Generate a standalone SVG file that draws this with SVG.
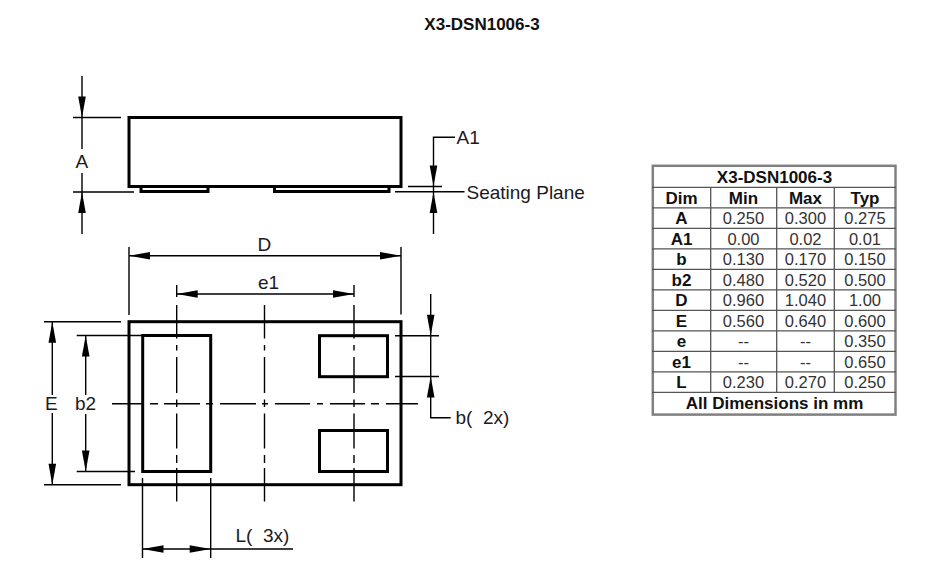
<svg xmlns="http://www.w3.org/2000/svg" width="943" height="573" viewBox="0 0 943 573">
<defs>
<path id="ah" d="M0 0L-21 -3.800L-21 3.800Z" fill="#000"/>
<path id="cl" d="M0 0V12M0 20V53.500M0 60V65.500M0 72V108M0 114.500V122M0 128.500V163.500M0 170V178M0 183V216.500"/>
</defs>
<style>
text{font-family:"Liberation Sans",Arial,sans-serif;fill:#1a1a24}
.o{fill:none;stroke:#000;stroke-width:3}
.p{fill:none;stroke:#000;stroke-width:3}
.l{fill:none;stroke:#000;stroke-width:1.4}
.d{font-size:19px}
.tl{stroke:#555;stroke-width:1.3}
.tb{font-size:17px;font-weight:bold;text-anchor:middle;fill:#111}
.tv{font-size:16.500px;text-anchor:middle;fill:#333}
</style>
<rect width="943" height="573" fill="#fff"/>
<text x="482" y="30" font-size="17" font-weight="bold" text-anchor="middle" style="fill:#111">X3-DSN1006-3</text>
<g id="side-view">
<rect class="o" x="129" y="117.500" width="272" height="69"/>
<path class="p" d="M141 187V191.500H208V187M274.500 187V191.500H389V187"/>
</g>
<g id="bottom-view">
<rect class="o" x="129" y="321.700" width="272" height="163"/>
<rect class="p" x="142.700" y="335.500" width="68" height="136"/>
<rect class="p" x="319.500" y="335.700" width="68" height="41"/>
<rect class="p" x="319.500" y="430.500" width="68" height="41"/>
</g>
<g id="connectors">
<g class="l">
<path d="M82 76V149M82 173V234M73 117.500H121M73 192H134"/>
<path d="M455 137.300H433.500V192V234M408 186.500H442M395 191.800H464.500"/>
<path d="M129 247V315M401 247V314.500M129 255.700H401"/>
<path d="M176.700 294H354"/>
<path d="M52.300 321.700V395M52.300 413V484.700M44 321.700H121M44 484.700H121"/>
<path d="M85.700 335.500V395M85.700 414V471.500M76.700 335.500H142M76.700 471.500H135"/>
<path d="M142.500 478V558M210.700 478V558M142.500 549H293"/>
<path d="M430.700 294V417.700H450.700M395 335.700H439M395 376.500H439"/>
<use href="#cl" x="176.700" y="285"/>
<path d="M264.500 305V338.500M264.500 345V350.500M264.500 357V393M264.500 399.500V407M264.500 413.500V448.500M264.500 455V463M264.500 468V501.500"/>
<use href="#cl" x="354" y="285"/>
<path d="M112 403.700H144M150 403.700H158M164 403.700H200M206 403.700H213M220 403.700H256M262 403.700H268M275 403.700H310M317 403.700H323M330 403.700H365M371 403.700H379M386 403.700H418"/>
</g>
<use href="#ah" transform="translate(82 117.500) rotate(90)"/>
<use href="#ah" transform="translate(82 192) rotate(-90)"/>
<use href="#ah" transform="translate(433.500 186.500) rotate(90)"/>
<use href="#ah" transform="translate(433.500 192) rotate(-90)"/>
<use href="#ah" transform="translate(129 255.700) rotate(180)"/>
<use href="#ah" transform="translate(401 255.700)"/>
<use href="#ah" transform="translate(176.700 294) rotate(180)"/>
<use href="#ah" transform="translate(354 294)"/>
<use href="#ah" transform="translate(52.300 321.700) rotate(-90)"/>
<use href="#ah" transform="translate(52.300 484.700) rotate(90)"/>
<use href="#ah" transform="translate(85.700 335.500) rotate(-90)"/>
<use href="#ah" transform="translate(85.700 471.500) rotate(90)"/>
<use href="#ah" transform="translate(142.500 549) rotate(180)"/>
<use href="#ah" transform="translate(210.700 549)"/>
<use href="#ah" transform="translate(430.700 335.700) rotate(90)"/>
<use href="#ah" transform="translate(430.700 376.500) rotate(-90)"/>
</g>
<g id="labels" class="d">
<text x="75.500" y="168">A</text>
<text x="456.500" y="143.500">A1</text>
<text x="466.500" y="198.500">Seating Plane</text>
<text x="257.500" y="250.500">D</text>
<text x="258" y="289">e1</text>
<text x="45" y="410">E</text>
<text x="75" y="410">b2</text>
<text x="235.500" y="541.500" xml:space="preserve">L(  3x)</text>
<text x="455.500" y="423.500" xml:space="preserve">b(  2x)</text>
</g>
<g id="table">
<rect x="652.800" y="165.800" width="242.700" height="248.800" fill="none" stroke="#808080" stroke-width="2.500"/>
<path class="tl" fill="none" d="M652 187.300H896M652 207.800H896M652 228.300H896M652 248.800H896M652 269.300H896M652 289.800H896M652 310.300H896M652 330.800H896M652 351.300H896M652 371.800H896M652 392.300H896M710.700 187.300V392.300M776.700 187.300V392.300M834.300 187.300V392.300"/>
<text class="tb" x="774.500" y="182.500">X3-DSN1006-3</text>
<text class="tb" x="681.500" y="203.500">Dim</text><text class="tb" x="743.500" y="203.500">Min</text><text class="tb" x="805.500" y="203.500">Max</text><text class="tb" x="865" y="203.500">Typ</text>
<text class="tb" x="681.500" y="224">A</text><text class="tv" x="743.500" y="224">0.250</text><text class="tv" x="805.500" y="224">0.300</text><text class="tv" x="865" y="224">0.275</text>
<text class="tb" x="681.500" y="244.500">A1</text><text class="tv" x="743.500" y="244.500">0.00</text><text class="tv" x="805.500" y="244.500">0.02</text><text class="tv" x="865" y="244.500">0.01</text>
<text class="tb" x="681.500" y="265">b</text><text class="tv" x="743.500" y="265">0.130</text><text class="tv" x="805.500" y="265">0.170</text><text class="tv" x="865" y="265">0.150</text>
<text class="tb" x="681.500" y="285.500">b2</text><text class="tv" x="743.500" y="285.500">0.480</text><text class="tv" x="805.500" y="285.500">0.520</text><text class="tv" x="865" y="285.500">0.500</text>
<text class="tb" x="681.500" y="306">D</text><text class="tv" x="743.500" y="306">0.960</text><text class="tv" x="805.500" y="306">1.040</text><text class="tv" x="865" y="306">1.00</text>
<text class="tb" x="681.500" y="326.500">E</text><text class="tv" x="743.500" y="326.500">0.560</text><text class="tv" x="805.500" y="326.500">0.640</text><text class="tv" x="865" y="326.500">0.600</text>
<text class="tb" x="681.500" y="347">e</text><text class="tv" x="743.500" y="347">--</text><text class="tv" x="805.500" y="347">--</text><text class="tv" x="865" y="347">0.350</text>
<text class="tb" x="681.500" y="367.500">e1</text><text class="tv" x="743.500" y="367.500">--</text><text class="tv" x="805.500" y="367.500">--</text><text class="tv" x="865" y="367.500">0.650</text>
<text class="tb" x="681.500" y="388">L</text><text class="tv" x="743.500" y="388">0.230</text><text class="tv" x="805.500" y="388">0.270</text><text class="tv" x="865" y="388">0.250</text>
<text class="tb" x="774.500" y="408.500">All Dimensions in mm</text>
</g>
</svg>
